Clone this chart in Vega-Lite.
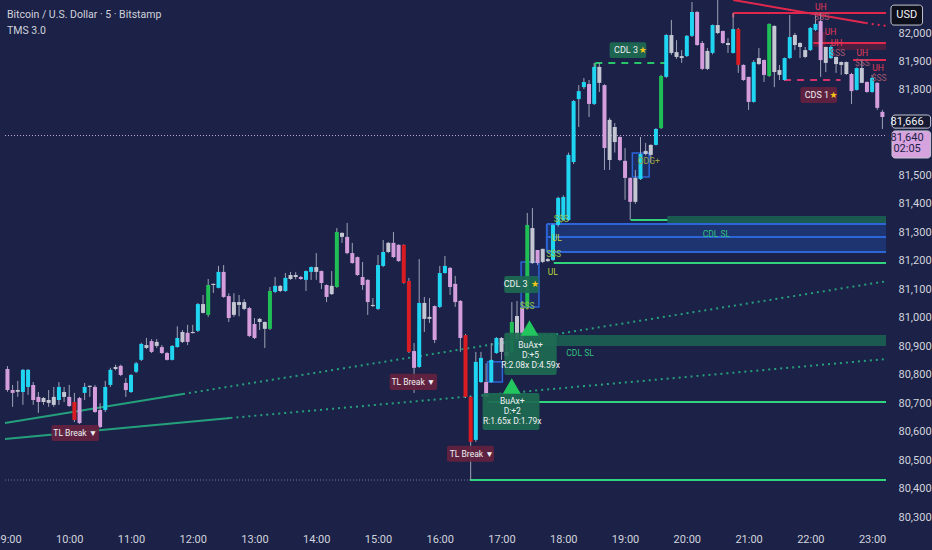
{
  "$schema": "https://vega.github.io/schema/vega-lite/v6.json",
  "width": 891,
  "height": 527,
  "autosize": {"type": "none"},
  "padding": {"left": 0, "top": 0, "right": 41, "bottom": 23},
  "background": "#1c2147",
  "config": {
    "view": {"stroke": null},
    "font": "Roboto",
    "axis": {"domain": false, "ticks": false, "grid": false, "labelColor": "#d1d4dc", "labelFontSize": 11}
  },
  "datasets": {
    "candles": [
      {"t": "2024-03-01T09:00", "o": 80820, "h": 80830, "l": 80740, "c": 80746, "k": "d"},
      {"t": "2024-03-01T09:05", "o": 80746, "h": 80764, "l": 80687, "c": 80736, "k": "d"},
      {"t": "2024-03-01T09:10", "o": 80740, "h": 80778, "l": 80722, "c": 80746, "k": "n"},
      {"t": "2024-03-01T09:15", "o": 80739, "h": 80820, "l": 80694, "c": 80817, "k": "u"},
      {"t": "2024-03-01T09:20", "o": 80757, "h": 80820, "l": 80729, "c": 80817, "k": "u"},
      {"t": "2024-03-01T09:25", "o": 80764, "h": 80774, "l": 80694, "c": 80711, "k": "d"},
      {"t": "2024-03-01T09:30", "o": 80722, "h": 80739, "l": 80666, "c": 80704, "k": "d"},
      {"t": "2024-03-01T09:35", "o": 80704, "h": 80722, "l": 80694, "c": 80718, "k": "n"},
      {"t": "2024-03-01T09:40", "o": 80711, "h": 80746, "l": 80687, "c": 80701, "k": "n"},
      {"t": "2024-03-01T09:45", "o": 80694, "h": 80757, "l": 80687, "c": 80722, "k": "n"},
      {"t": "2024-03-01T09:50", "o": 80711, "h": 80774, "l": 80694, "c": 80757, "k": "u"},
      {"t": "2024-03-01T09:55", "o": 80739, "h": 80757, "l": 80704, "c": 80722, "k": "n"},
      {"t": "2024-03-01T10:00", "o": 80722, "h": 80764, "l": 80687, "c": 80690, "k": "d"},
      {"t": "2024-03-01T10:05", "o": 80704, "h": 80736, "l": 80634, "c": 80641, "k": "r"},
      {"t": "2024-03-01T10:10", "o": 80718, "h": 80722, "l": 80627, "c": 80630, "k": "d"},
      {"t": "2024-03-01T10:15", "o": 80736, "h": 80771, "l": 80711, "c": 80757, "k": "u"},
      {"t": "2024-03-01T10:20", "o": 80757, "h": 80762, "l": 80722, "c": 80761, "k": "n"},
      {"t": "2024-03-01T10:25", "o": 80757, "h": 80764, "l": 80666, "c": 80669, "k": "d"},
      {"t": "2024-03-01T10:30", "o": 80676, "h": 80700, "l": 80612, "c": 80616, "k": "d"},
      {"t": "2024-03-01T10:35", "o": 80676, "h": 80778, "l": 80669, "c": 80757, "k": "u"},
      {"t": "2024-03-01T10:40", "o": 80764, "h": 80824, "l": 80757, "c": 80817, "k": "u"},
      {"t": "2024-03-01T10:45", "o": 80820, "h": 80835, "l": 80815, "c": 80827, "k": "n"},
      {"t": "2024-03-01T10:50", "o": 80831, "h": 80835, "l": 80795, "c": 80799, "k": "d"},
      {"t": "2024-03-01T10:55", "o": 80771, "h": 80788, "l": 80722, "c": 80746, "k": "d"},
      {"t": "2024-03-01T11:00", "o": 80739, "h": 80802, "l": 80736, "c": 80799, "k": "u"},
      {"t": "2024-03-01T11:05", "o": 80810, "h": 80845, "l": 80806, "c": 80840, "k": "u"},
      {"t": "2024-03-01T11:10", "o": 80852, "h": 80912, "l": 80848, "c": 80908, "k": "u"},
      {"t": "2024-03-01T11:15", "o": 80894, "h": 80929, "l": 80890, "c": 80904, "k": "n"},
      {"t": "2024-03-01T11:20", "o": 80918, "h": 80925, "l": 80876, "c": 80880, "k": "d"},
      {"t": "2024-03-01T11:25", "o": 80915, "h": 80925, "l": 80894, "c": 80901, "k": "n"},
      {"t": "2024-03-01T11:30", "o": 80897, "h": 80904, "l": 80873, "c": 80876, "k": "d"},
      {"t": "2024-03-01T11:35", "o": 80876, "h": 80880, "l": 80850, "c": 80852, "k": "d"},
      {"t": "2024-03-01T11:40", "o": 80852, "h": 80904, "l": 80850, "c": 80901, "k": "u"},
      {"t": "2024-03-01T11:45", "o": 80897, "h": 80970, "l": 80895, "c": 80929, "k": "u"},
      {"t": "2024-03-01T11:50", "o": 80915, "h": 80957, "l": 80911, "c": 80950, "k": "n"},
      {"t": "2024-03-01T11:55", "o": 80947, "h": 80975, "l": 80904, "c": 80915, "k": "d"},
      {"t": "2024-03-01T12:00", "o": 80950, "h": 80975, "l": 80945, "c": 80946, "k": "n"},
      {"t": "2024-03-01T12:05", "o": 80954, "h": 81052, "l": 80950, "c": 81048, "k": "u"},
      {"t": "2024-03-01T12:10", "o": 81017, "h": 81080, "l": 81015, "c": 81048, "k": "n"},
      {"t": "2024-03-01T12:15", "o": 81010, "h": 81136, "l": 81003, "c": 81115, "k": "g"},
      {"t": "2024-03-01T12:20", "o": 81115, "h": 81120, "l": 81087, "c": 81119, "k": "n"},
      {"t": "2024-03-01T12:25", "o": 81105, "h": 81182, "l": 81103, "c": 81161, "k": "u"},
      {"t": "2024-03-01T12:30", "o": 81161, "h": 81185, "l": 81070, "c": 81073, "k": "d"},
      {"t": "2024-03-01T12:35", "o": 81076, "h": 81086, "l": 80985, "c": 80999, "k": "d"},
      {"t": "2024-03-01T12:40", "o": 81010, "h": 81086, "l": 81003, "c": 81055, "k": "n"},
      {"t": "2024-03-01T12:45", "o": 81055, "h": 81080, "l": 81005, "c": 81045, "k": "n"},
      {"t": "2024-03-01T12:50", "o": 81031, "h": 81065, "l": 81027, "c": 81055, "k": "n"},
      {"t": "2024-03-01T12:55", "o": 81034, "h": 81038, "l": 80932, "c": 80936, "k": "d"},
      {"t": "2024-03-01T13:00", "o": 80978, "h": 80999, "l": 80925, "c": 80929, "k": "d"},
      {"t": "2024-03-01T13:05", "o": 80985, "h": 80999, "l": 80957, "c": 80996, "k": "n"},
      {"t": "2024-03-01T13:10", "o": 80961, "h": 80987, "l": 80894, "c": 80985, "k": "n"},
      {"t": "2024-03-01T13:15", "o": 80961, "h": 81108, "l": 80957, "c": 81094, "k": "g"},
      {"t": "2024-03-01T13:20", "o": 81091, "h": 81143, "l": 81087, "c": 81112, "k": "u"},
      {"t": "2024-03-01T13:25", "o": 81094, "h": 81115, "l": 81090, "c": 81112, "k": "n"},
      {"t": "2024-03-01T13:30", "o": 81094, "h": 81157, "l": 81091, "c": 81140, "k": "u"},
      {"t": "2024-03-01T13:35", "o": 81136, "h": 81161, "l": 81133, "c": 81150, "k": "n"},
      {"t": "2024-03-01T13:40", "o": 81150, "h": 81160, "l": 81135, "c": 81143, "k": "n"},
      {"t": "2024-03-01T13:45", "o": 81143, "h": 81147, "l": 81133, "c": 81136, "k": "d"},
      {"t": "2024-03-01T13:50", "o": 81133, "h": 81166, "l": 81094, "c": 81164, "k": "u"},
      {"t": "2024-03-01T13:55", "o": 81161, "h": 81180, "l": 81133, "c": 81178, "k": "u"},
      {"t": "2024-03-01T14:00", "o": 81178, "h": 81227, "l": 81133, "c": 81161, "k": "n"},
      {"t": "2024-03-01T14:05", "o": 81164, "h": 81166, "l": 81101, "c": 81122, "k": "d"},
      {"t": "2024-03-01T14:10", "o": 81115, "h": 81117, "l": 81055, "c": 81073, "k": "d"},
      {"t": "2024-03-01T14:15", "o": 81083, "h": 81164, "l": 81080, "c": 81112, "k": "n"},
      {"t": "2024-03-01T14:20", "o": 81108, "h": 81315, "l": 81105, "c": 81301, "k": "g"},
      {"t": "2024-03-01T14:25", "o": 81298, "h": 81300, "l": 81263, "c": 81284, "k": "n"},
      {"t": "2024-03-01T14:30", "o": 81284, "h": 81333, "l": 81223, "c": 81227, "k": "d"},
      {"t": "2024-03-01T14:35", "o": 81227, "h": 81263, "l": 81190, "c": 81192, "k": "d"},
      {"t": "2024-03-01T14:40", "o": 81213, "h": 81215, "l": 81147, "c": 81150, "k": "d"},
      {"t": "2024-03-01T14:45", "o": 81143, "h": 81196, "l": 81098, "c": 81115, "k": "d"},
      {"t": "2024-03-01T14:50", "o": 81133, "h": 81135, "l": 81010, "c": 81055, "k": "d"},
      {"t": "2024-03-01T14:55", "o": 81045, "h": 81069, "l": 81038, "c": 81041, "k": "n"},
      {"t": "2024-03-01T15:00", "o": 81031, "h": 81220, "l": 81027, "c": 81185, "k": "u"},
      {"t": "2024-03-01T15:05", "o": 81182, "h": 81273, "l": 81178, "c": 81231, "k": "u"},
      {"t": "2024-03-01T15:10", "o": 81231, "h": 81266, "l": 81227, "c": 81263, "k": "n"},
      {"t": "2024-03-01T15:15", "o": 81263, "h": 81301, "l": 81210, "c": 81213, "k": "d"},
      {"t": "2024-03-01T15:20", "o": 81256, "h": 81258, "l": 81196, "c": 81199, "k": "d"},
      {"t": "2024-03-01T15:25", "o": 81256, "h": 81258, "l": 81119, "c": 81122, "k": "r"},
      {"t": "2024-03-01T15:30", "o": 81129, "h": 81140, "l": 80876, "c": 80880, "k": "r"},
      {"t": "2024-03-01T15:35", "o": 80883, "h": 80911, "l": 80736, "c": 80824, "k": "d"},
      {"t": "2024-03-01T15:40", "o": 80827, "h": 81206, "l": 80824, "c": 81052, "k": "u"},
      {"t": "2024-03-01T15:45", "o": 81052, "h": 81073, "l": 80950, "c": 80996, "k": "n"},
      {"t": "2024-03-01T15:50", "o": 80996, "h": 81069, "l": 80982, "c": 81003, "k": "n"},
      {"t": "2024-03-01T15:55", "o": 81041, "h": 81043, "l": 80911, "c": 80922, "k": "d"},
      {"t": "2024-03-01T16:00", "o": 81038, "h": 81182, "l": 81034, "c": 81157, "k": "u"},
      {"t": "2024-03-01T16:05", "o": 81157, "h": 81217, "l": 81155, "c": 81182, "k": "u"},
      {"t": "2024-03-01T16:10", "o": 81175, "h": 81178, "l": 81080, "c": 81108, "k": "d"},
      {"t": "2024-03-01T16:15", "o": 81119, "h": 81147, "l": 81038, "c": 81055, "k": "d"},
      {"t": "2024-03-01T16:20", "o": 81059, "h": 81062, "l": 80880, "c": 80929, "k": "d"},
      {"t": "2024-03-01T16:25", "o": 80939, "h": 80943, "l": 80718, "c": 80722, "k": "r"},
      {"t": "2024-03-01T16:30", "o": 80722, "h": 80725, "l": 80430, "c": 80564, "k": "r"},
      {"t": "2024-03-01T16:35", "o": 80571, "h": 80880, "l": 80564, "c": 80845, "k": "u"},
      {"t": "2024-03-01T16:40", "o": 80774, "h": 80880, "l": 80771, "c": 80859, "k": "u"},
      {"t": "2024-03-01T16:45", "o": 80774, "h": 80840, "l": 80720, "c": 80722, "k": "d"},
      {"t": "2024-03-01T16:50", "o": 80774, "h": 80911, "l": 80771, "c": 80852, "k": "u"},
      {"t": "2024-03-01T16:55", "o": 80876, "h": 80932, "l": 80873, "c": 80929, "k": "u"},
      {"t": "2024-03-01T17:00", "o": 80929, "h": 80932, "l": 80852, "c": 80880, "k": "n"},
      {"t": "2024-03-01T17:05", "o": 80866, "h": 80922, "l": 80859, "c": 80880, "k": "n"},
      {"t": "2024-03-01T17:10", "o": 80880, "h": 81055, "l": 80876, "c": 80985, "k": "g"},
      {"t": "2024-03-01T17:15", "o": 80925, "h": 81059, "l": 80922, "c": 81006, "k": "n"},
      {"t": "2024-03-01T17:20", "o": 81034, "h": 81059, "l": 80918, "c": 80922, "k": "d"},
      {"t": "2024-03-01T17:25", "o": 81038, "h": 81368, "l": 81034, "c": 81326, "k": "g"},
      {"t": "2024-03-01T17:30", "o": 81315, "h": 81385, "l": 81189, "c": 81192, "k": "n"},
      {"t": "2024-03-01T17:35", "o": 81238, "h": 81238, "l": 81185, "c": 81192, "k": "d"},
      {"t": "2024-03-01T17:40", "o": 81196, "h": 81242, "l": 81192, "c": 81242, "k": "n"},
      {"t": "2024-03-01T17:45", "o": 81206, "h": 81210, "l": 81196, "c": 81199, "k": "n"},
      {"t": "2024-03-01T17:50", "o": 81203, "h": 81330, "l": 81199, "c": 81326, "k": "u"},
      {"t": "2024-03-01T17:55", "o": 81326, "h": 81425, "l": 81320, "c": 81421, "k": "u"},
      {"t": "2024-03-01T18:00", "o": 81343, "h": 81430, "l": 81340, "c": 81424, "k": "u"},
      {"t": "2024-03-01T18:05", "o": 81343, "h": 81580, "l": 81340, "c": 81572, "k": "u"},
      {"t": "2024-03-01T18:10", "o": 81547, "h": 81765, "l": 81540, "c": 81761, "k": "u"},
      {"t": "2024-03-01T18:15", "o": 81768, "h": 81817, "l": 81670, "c": 81796, "k": "u"},
      {"t": "2024-03-01T18:20", "o": 81810, "h": 81842, "l": 81803, "c": 81828, "k": "u"},
      {"t": "2024-03-01T18:25", "o": 81821, "h": 81835, "l": 81705, "c": 81751, "k": "d"},
      {"t": "2024-03-01T18:30", "o": 81751, "h": 81895, "l": 81747, "c": 81881, "k": "u"},
      {"t": "2024-03-01T18:35", "o": 81881, "h": 81895, "l": 81793, "c": 81825, "k": "n"},
      {"t": "2024-03-01T18:40", "o": 81817, "h": 81820, "l": 81519, "c": 81596, "k": "d"},
      {"t": "2024-03-01T18:45", "o": 81554, "h": 81702, "l": 81519, "c": 81695, "k": "n"},
      {"t": "2024-03-01T18:50", "o": 81670, "h": 81684, "l": 81580, "c": 81617, "k": "n"},
      {"t": "2024-03-01T18:55", "o": 81635, "h": 81637, "l": 81550, "c": 81554, "k": "d"},
      {"t": "2024-03-01T19:00", "o": 81551, "h": 81596, "l": 81414, "c": 81491, "k": "d"},
      {"t": "2024-03-01T19:05", "o": 81491, "h": 81493, "l": 81343, "c": 81407, "k": "d"},
      {"t": "2024-03-01T19:10", "o": 81407, "h": 81519, "l": 81400, "c": 81491, "k": "n"},
      {"t": "2024-03-01T19:15", "o": 81487, "h": 81635, "l": 81484, "c": 81575, "k": "u"},
      {"t": "2024-03-01T19:20", "o": 81575, "h": 81614, "l": 81570, "c": 81586, "k": "n"},
      {"t": "2024-03-01T19:25", "o": 81572, "h": 81609, "l": 81544, "c": 81607, "k": "n"},
      {"t": "2024-03-01T19:30", "o": 81607, "h": 81666, "l": 81605, "c": 81663, "k": "u"},
      {"t": "2024-03-01T19:35", "o": 81666, "h": 81853, "l": 81663, "c": 81849, "k": "g"},
      {"t": "2024-03-01T19:40", "o": 81846, "h": 81996, "l": 81842, "c": 81993, "k": "u"},
      {"t": "2024-03-01T19:45", "o": 81993, "h": 82046, "l": 81923, "c": 81930, "k": "n"},
      {"t": "2024-03-01T19:50", "o": 81933, "h": 81975, "l": 81909, "c": 81916, "k": "n"},
      {"t": "2024-03-01T19:55", "o": 81919, "h": 81940, "l": 81895, "c": 81912, "k": "n"},
      {"t": "2024-03-01T20:00", "o": 81919, "h": 81993, "l": 81916, "c": 81990, "k": "u"},
      {"t": "2024-03-01T20:05", "o": 81990, "h": 82109, "l": 81986, "c": 82074, "k": "u"},
      {"t": "2024-03-01T20:10", "o": 82074, "h": 82077, "l": 81955, "c": 81958, "k": "d"},
      {"t": "2024-03-01T20:15", "o": 81965, "h": 81972, "l": 81870, "c": 81874, "k": "d"},
      {"t": "2024-03-01T20:20", "o": 81874, "h": 81947, "l": 81870, "c": 81937, "k": "n"},
      {"t": "2024-03-01T20:25", "o": 81930, "h": 82030, "l": 81925, "c": 82028, "k": "u"},
      {"t": "2024-03-01T20:30", "o": 82028, "h": 82116, "l": 81996, "c": 82000, "k": "n"},
      {"t": "2024-03-01T20:35", "o": 82007, "h": 82009, "l": 81962, "c": 81965, "k": "d"},
      {"t": "2024-03-01T20:40", "o": 81965, "h": 81982, "l": 81930, "c": 81958, "k": "n"},
      {"t": "2024-03-01T20:45", "o": 81930, "h": 82070, "l": 81928, "c": 82014, "k": "u"},
      {"t": "2024-03-01T20:50", "o": 82014, "h": 82018, "l": 81860, "c": 81888, "k": "r"},
      {"t": "2024-03-01T20:55", "o": 81888, "h": 81890, "l": 81832, "c": 81835, "k": "d"},
      {"t": "2024-03-01T21:00", "o": 81846, "h": 81846, "l": 81730, "c": 81758, "k": "d"},
      {"t": "2024-03-01T21:05", "o": 81758, "h": 81905, "l": 81755, "c": 81898, "k": "u"},
      {"t": "2024-03-01T21:10", "o": 81912, "h": 81947, "l": 81888, "c": 81891, "k": "n"},
      {"t": "2024-03-01T21:15", "o": 81905, "h": 81907, "l": 81828, "c": 81853, "k": "d"},
      {"t": "2024-03-01T21:20", "o": 81849, "h": 82034, "l": 81846, "c": 82032, "k": "g"},
      {"t": "2024-03-01T21:25", "o": 82025, "h": 82027, "l": 81810, "c": 81863, "k": "n"},
      {"t": "2024-03-01T21:30", "o": 81870, "h": 81888, "l": 81835, "c": 81853, "k": "n"},
      {"t": "2024-03-01T21:35", "o": 81835, "h": 81914, "l": 81833, "c": 81912, "k": "u"},
      {"t": "2024-03-01T21:40", "o": 81912, "h": 82063, "l": 81909, "c": 81986, "k": "u"},
      {"t": "2024-03-01T21:45", "o": 81993, "h": 82000, "l": 81940, "c": 81958, "k": "n"},
      {"t": "2024-03-01T21:50", "o": 81965, "h": 81968, "l": 81912, "c": 81951, "k": "n"},
      {"t": "2024-03-01T21:55", "o": 81940, "h": 81951, "l": 81912, "c": 81916, "k": "n"},
      {"t": "2024-03-01T22:00", "o": 81940, "h": 82021, "l": 81937, "c": 82018, "k": "u"},
      {"t": "2024-03-01T22:05", "o": 82011, "h": 82063, "l": 82007, "c": 82032, "k": "u"},
      {"t": "2024-03-01T22:10", "o": 82042, "h": 82070, "l": 81846, "c": 81905, "k": "d"},
      {"t": "2024-03-01T22:15", "o": 81895, "h": 81952, "l": 81863, "c": 81951, "k": "n"},
      {"t": "2024-03-01T22:20", "o": 81912, "h": 81958, "l": 81909, "c": 81951, "k": "u"},
      {"t": "2024-03-01T22:25", "o": 81916, "h": 81917, "l": 81860, "c": 81891, "k": "n"},
      {"t": "2024-03-01T22:30", "o": 81898, "h": 81900, "l": 81853, "c": 81888, "k": "n"},
      {"t": "2024-03-01T22:35", "o": 81898, "h": 81900, "l": 81853, "c": 81856, "k": "n"},
      {"t": "2024-03-01T22:40", "o": 81856, "h": 81860, "l": 81751, "c": 81796, "k": "d"},
      {"t": "2024-03-01T22:45", "o": 81800, "h": 81879, "l": 81798, "c": 81877, "k": "u"},
      {"t": "2024-03-01T22:50", "o": 81877, "h": 81905, "l": 81824, "c": 81825, "k": "n"},
      {"t": "2024-03-01T22:55", "o": 81828, "h": 81830, "l": 81790, "c": 81793, "k": "d"},
      {"t": "2024-03-01T23:00", "o": 81793, "h": 81853, "l": 81790, "c": 81842, "k": "u"},
      {"t": "2024-03-01T23:05", "o": 81825, "h": 81827, "l": 81730, "c": 81737, "k": "d"},
      {"t": "2024-03-01T23:10", "o": 81723, "h": 81730, "l": 81663, "c": 81705, "k": "d"}
    ],
    "zones": [
      {"t": "2024-03-01T17:44:00", "t2": "2024-03-01T23:13:30", "p": 81231, "p2": 81329, "k": "blue"},
      {"t": "2024-03-01T19:41:00", "t2": "2024-03-01T23:13:30", "p": 81329, "p2": 81357, "k": "teal"},
      {"t": "2024-03-01T17:22:00", "t2": "2024-03-01T23:13:30", "p": 80901, "p2": 80939, "k": "teal"},
      {"t": "2024-03-01T22:26:00", "t2": "2024-03-01T23:13:30", "p": 81940, "p2": 81968, "k": "red"},
      {"t": "2024-03-01T22:03:00", "t2": "2024-03-01T22:15:00", "p": 81951, "p2": 82004, "k": "red"}
    ],
    "blueSeg": [
      {"t": "2024-03-01T17:44:00", "t2": "2024-03-01T23:13:30", "p": 81329, "p2": 81329},
      {"t": "2024-03-01T17:44:00", "t2": "2024-03-01T23:13:30", "p": 81284, "p2": 81284},
      {"t": "2024-03-01T17:44:00", "t2": "2024-03-01T23:13:30", "p": 81231, "p2": 81231},
      {"t": "2024-03-01T17:44:00", "t2": "2024-03-01T17:44:00", "p": 81231, "p2": 81329}
    ],
    "blueBox": [
      {"t": "2024-03-01T19:07:05", "t2": "2024-03-01T19:23:25", "p": 81494, "p2": 81579},
      {"t": "2024-03-01T16:46:25", "t2": "2024-03-01T17:00:50", "p": 80774, "p2": 80845},
      {"t": "2024-03-01T17:19:00", "t2": "2024-03-01T17:36:20", "p": 81038, "p2": 81196}
    ],
    "trendSolid": [
      {"t": "2024-03-01T08:57:36", "t2": "2024-03-01T11:50:30", "p": 80630, "p2": 80732},
      {"t": "2024-03-01T08:57:36", "t2": "2024-03-01T12:36:36", "p": 80574, "p2": 80648}
    ],
    "trendDot": [
      {"t": "2024-03-01T11:50:30", "t2": "2024-03-01T23:13:30", "p": 80732, "p2": 81128},
      {"t": "2024-03-01T12:36:36", "t2": "2024-03-01T23:13:30", "p": 80648, "p2": 80855}
    ],
    "greenSeg": [
      {"t": "2024-03-01T16:29:05", "t2": "2024-03-01T23:13:30", "p": 80430, "p2": 80430},
      {"t": "2024-03-01T16:46:25", "t2": "2024-03-01T23:13:30", "p": 80704, "p2": 80704},
      {"t": "2024-03-01T17:50:45", "t2": "2024-03-01T23:13:30", "p": 81192, "p2": 81192},
      {"t": "2024-03-01T19:05:35", "t2": "2024-03-01T19:41:10", "p": 81343, "p2": 81343}
    ],
    "cdlDash": [
      {"t": "2024-03-01T18:31:05", "t2": "2024-03-01T19:39:20", "p": 81895, "p2": 81895},
      {"t": "2024-03-01T18:31:05", "t2": "2024-03-01T18:31:05", "p": 81895, "p2": 81875}
    ],
    "dots": [
      {"t": "2024-03-01T08:57:36", "t2": "2024-03-01T23:13:30", "p": 81640, "p2": 81640, "k": "last"},
      {"t": "2024-03-01T08:57:36", "t2": "2024-03-01T16:29:05", "p": 80430, "p2": 80430, "k": "low"}
    ],
    "redSolid": [
      {"t": "2024-03-01T20:45:05", "t2": "2024-03-01T22:53:50", "p": 82116, "p2": 82035},
      {"t": "2024-03-01T20:45:05", "t2": "2024-03-01T23:13:30", "p": 82070, "p2": 82070},
      {"t": "2024-03-01T20:45:05", "t2": "2024-03-01T20:45:05", "p": 82070, "p2": 82055},
      {"t": "2024-03-01T22:02:55", "t2": "2024-03-01T23:13:30", "p": 81965, "p2": 81965},
      {"t": "2024-03-01T22:41:25", "t2": "2024-03-01T23:13:30", "p": 81905, "p2": 81905}
    ],
    "redDot": [
      {"t": "2024-03-01T22:53:50", "t2": "2024-03-01T23:13:30", "p": 82035, "p2": 82025}
    ],
    "redDash": [
      {"t": "2024-03-01T21:34:30", "t2": "2024-03-01T22:29:20", "p": 81835, "p2": 81835}
    ],
    "boxes": [
      {"t": "2024-03-01T09:42:45", "t2": "2024-03-01T10:28:55", "p": 80567, "p2": 80623, "k": "maroon"},
      {"t": "2024-03-01T15:11:20", "t2": "2024-03-01T15:57:25", "p": 80746, "p2": 80803, "k": "maroon"},
      {"t": "2024-03-01T16:07:00", "t2": "2024-03-01T16:52:35", "p": 80494, "p2": 80550, "k": "maroon"},
      {"t": "2024-03-01T16:41:35", "t2": "2024-03-01T17:36:50", "p": 80606, "p2": 80736, "k": "green"},
      {"t": "2024-03-01T17:02:40", "t2": "2024-03-01T17:53:35", "p": 80799, "p2": 80947, "k": "green"},
      {"t": "2024-03-01T17:02:40", "t2": "2024-03-01T17:36:00", "p": 81087, "p2": 81147, "k": "green"},
      {"t": "2024-03-01T18:45:00", "t2": "2024-03-01T19:20:35", "p": 81912, "p2": 81968, "k": "green"},
      {"t": "2024-03-01T21:50:25", "t2": "2024-03-01T22:26:00", "p": 81754, "p2": 81810, "k": "maroon"}
    ],
    "triangles": [
      {"t": "2024-03-01T17:09:55", "p": 80760},
      {"t": "2024-03-01T17:27:10", "p": 80964}
    ],
    "whiteText": [
      {"t": "2024-03-01T10:05:50", "p": 80595, "s": "TL Break ▼"},
      {"t": "2024-03-01T15:34:20", "p": 80774, "s": "TL Break ▼"},
      {"t": "2024-03-01T16:31:00", "p": 80522, "s": "TL Break ▼"},
      {"t": "2024-03-01T17:10:25", "p": 80708, "s": "BuAx+"},
      {"t": "2024-03-01T17:10:25", "p": 80673, "s": "D:+2"},
      {"t": "2024-03-01T17:10:25", "p": 80637, "s": "R:1.65x D:1.79x"},
      {"t": "2024-03-01T17:28:10", "p": 80904, "s": "BuAx+"},
      {"t": "2024-03-01T17:28:10", "p": 80869, "s": "D:+5"},
      {"t": "2024-03-01T17:28:10", "p": 80834, "s": "R:2.08x D:4.59x"}
    ],
    "tagText": [
      {"t": "2024-03-01T17:13:45", "p": 81117, "s": "CDL 3"},
      {"t": "2024-03-01T19:00:55", "p": 81940, "s": "CDL 3"},
      {"t": "2024-03-01T22:06:20", "p": 81782, "s": "CDS 1"}
    ],
    "stars": [
      {"t": "2024-03-01T17:32:30", "p": 81117, "s": "★"},
      {"t": "2024-03-01T19:17:10", "p": 81940, "s": "★"},
      {"t": "2024-03-01T22:22:35", "p": 81782, "s": "★"}
    ],
    "colorText": [
      {"t": "2024-03-01T18:16:15", "p": 80876, "s": "CDL SL", "k": "sl"},
      {"t": "2024-03-01T20:28:45", "p": 81294, "s": "CDL SL", "k": "sl"},
      {"t": "2024-03-01T17:53:35", "p": 81280, "s": "UL", "k": "ul"},
      {"t": "2024-03-01T17:49:50", "p": 81161, "s": "UL", "k": "ul"},
      {"t": "2024-03-01T17:57:55", "p": 81347, "s": "S$S", "k": "ss"},
      {"t": "2024-03-01T17:50:40", "p": 81224, "s": "S$S", "k": "ss"},
      {"t": "2024-03-01T17:24:50", "p": 81041, "s": "S$S", "k": "ss"},
      {"t": "2024-03-01T19:23:00", "p": 81551, "s": "ODG+", "k": "odg"},
      {"t": "2024-03-01T22:10:05", "p": 82091, "s": "UH", "k": "uh"},
      {"t": "2024-03-01T22:19:40", "p": 82004, "s": "UH", "k": "uh"},
      {"t": "2024-03-01T22:25:30", "p": 81965, "s": "UH", "k": "uh"},
      {"t": "2024-03-01T22:50:30", "p": 81930, "s": "UH", "k": "uh"},
      {"t": "2024-03-01T23:05:50", "p": 81877, "s": "UH", "k": "uh"},
      {"t": "2024-03-01T22:11:05", "p": 82056, "s": "$SS", "k": "sss"},
      {"t": "2024-03-01T22:26:25", "p": 81930, "s": "$SS", "k": "sss"},
      {"t": "2024-03-01T22:50:30", "p": 81895, "s": "$SS", "k": "sss"},
      {"t": "2024-03-01T23:06:50", "p": 81842, "s": "$SS", "k": "sss"}
    ],
    "head": [
      {"t": "2024-03-01T08:59:30", "p": 82063, "s": "Bitcoin / U.S. Dollar · 5 · Bitstamp"},
      {"t": "2024-03-01T08:59:30", "p": 82007, "s": "TMS 3.0"}
    ],
    "sideBoxes": [
      {"t": "2024-03-01T23:18:18", "t2": "2024-03-01T23:49:00", "p": 82028, "p2": 82098, "k": "usd"},
      {"t": "2024-03-01T23:19:20", "t2": "2024-03-01T23:56:50", "p": 81666, "p2": 81712, "k": "ind"},
      {"t": "2024-03-01T23:19:20", "t2": "2024-03-01T23:56:50", "p": 81561, "p2": 81656, "k": "lastbox"}
    ],
    "sideText": [
      {"t": "2024-03-01T23:33:36", "p": 82063, "s": "USD", "k": "light"},
      {"t": "2024-03-01T23:34:00", "p": 81689, "s": "81,666", "k": "light"},
      {"t": "2024-03-01T23:34:00", "p": 81633, "s": "81,640", "k": "dark"},
      {"t": "2024-03-01T23:34:00", "p": 81592, "s": "02:05", "k": "dark"}
    ]
  },
  "layer": [
    {
      "data": {"name": "zones"},
      "mark": {"type": "rect"},
      "encoding": {
        "x": {
          "field": "t",
          "type": "temporal",
          "title": null,
          "scale": {
            "nice": false,
            "domain": [
              {"year": 2024, "month": 3, "date": 1, "hours": 8, "minutes": 57, "seconds": 36},
              {"year": 2024, "month": 3, "date": 1, "hours": 23, "minutes": 13, "seconds": 30}
            ]
          },
          "axis": {
            "format": "%H:%M",
            "tickCount": 30,
            "values": [
              {"year": 2024, "month": 3, "date": 1, "hours": 9},
              {"year": 2024, "month": 3, "date": 1, "hours": 10},
              {"year": 2024, "month": 3, "date": 1, "hours": 11},
              {"year": 2024, "month": 3, "date": 1, "hours": 12},
              {"year": 2024, "month": 3, "date": 1, "hours": 13},
              {"year": 2024, "month": 3, "date": 1, "hours": 14},
              {"year": 2024, "month": 3, "date": 1, "hours": 15},
              {"year": 2024, "month": 3, "date": 1, "hours": 16},
              {"year": 2024, "month": 3, "date": 1, "hours": 17},
              {"year": 2024, "month": 3, "date": 1, "hours": 18},
              {"year": 2024, "month": 3, "date": 1, "hours": 19},
              {"year": 2024, "month": 3, "date": 1, "hours": 20},
              {"year": 2024, "month": 3, "date": 1, "hours": 21},
              {"year": 2024, "month": 3, "date": 1, "hours": 22},
              {"year": 2024, "month": 3, "date": 1, "hours": 23}
            ],
            "labelFlush": false,
            "labelOverlap": false,
            "labelPadding": 6
          }
        },
        "x2": {"field": "t2"},
        "y": {
          "field": "p",
          "type": "quantitative",
          "title": null,
          "scale": {"domain": [80265, 82116], "zero": false, "nice": false},
          "axis": {
            "orient": "right",
            "tickCount": 40,
            "values": [80300, 80400, 80500, 80600, 80700, 80800, 80900, 81000, 81100, 81200, 81300, 81400, 81500, 81800, 81900, 82000],
            "labelExpr": "format(datum.value, ',')",
            "labelOverlap": false,
            "labelPadding": 7,
            "labelAlign": "left"
          }
        },
        "y2": {"field": "p2"},
        "color": {"field": "k", "type": "nominal", "legend": null, "scale": {"domain": ["u", "d", "n", "g", "r", "blue", "teal", "red", "last", "low", "maroon", "green", "sl", "ul", "ss", "odg", "uh", "sss", "light", "dark", "usd", "ind", "lastbox"], "range": ["#1fd5f2", "#d49ddc", "#c4c7d2", "#1fbf56", "#d91c22", "#1d3471", "#1a5a50", "#4b1f3f", "#c9a2da", "#7478a6", "#642340", "#1d6a52", "#2ec27e", "#b9d43c", "#8fc24a", "#9aa33a", "#e23b5a", "#a0586f", "#f2f3f6", "#1c2147", "#0d0f1a", "#161a33", "#d7a3df"]}}
      }
    },
    {
      "data": {"name": "blueSeg"},
      "mark": {"type": "rule", "color": "#2c66d6", "strokeWidth": 2},
      "encoding": {
        "x": {"field": "t", "type": "temporal"}, "x2": {"field": "t2"},
        "y": {"field": "p", "type": "quantitative"}, "y2": {"field": "p2"}
      }
    },
    {
      "data": {"name": "blueBox"},
      "mark": {"type": "rect", "fill": "#22408a", "fillOpacity": 0.35, "stroke": "#2c66d6", "strokeWidth": 1.5},
      "encoding": {
        "x": {"field": "t", "type": "temporal"}, "x2": {"field": "t2"},
        "y": {"field": "p", "type": "quantitative"}, "y2": {"field": "p2"}
      }
    },
    {
      "data": {"name": "trendSolid"},
      "mark": {"type": "rule", "color": "#25a07c", "strokeWidth": 2},
      "encoding": {
        "x": {"field": "t", "type": "temporal"}, "x2": {"field": "t2"},
        "y": {"field": "p", "type": "quantitative"}, "y2": {"field": "p2"}
      }
    },
    {
      "data": {"name": "trendDot"},
      "mark": {"type": "rule", "color": "#25a07c", "strokeWidth": 2, "strokeDash": [2, 4]},
      "encoding": {
        "x": {"field": "t", "type": "temporal"}, "x2": {"field": "t2"},
        "y": {"field": "p", "type": "quantitative"}, "y2": {"field": "p2"}
      }
    },
    {
      "data": {"name": "dots"},
      "mark": {"type": "rule", "strokeWidth": 1, "strokeDash": [1, 2]},
      "encoding": {
        "x": {"field": "t", "type": "temporal"}, "x2": {"field": "t2"},
        "y": {"field": "p", "type": "quantitative"}, "y2": {"field": "p2"},
        "color": {"field": "k", "type": "nominal", "legend": null}
      }
    },
    {
      "data": {"name": "greenSeg"},
      "mark": {"type": "rule", "color": "#2fd47c", "strokeWidth": 2},
      "encoding": {
        "x": {"field": "t", "type": "temporal"}, "x2": {"field": "t2"},
        "y": {"field": "p", "type": "quantitative"}, "y2": {"field": "p2"}
      }
    },
    {
      "data": {"name": "cdlDash"},
      "mark": {"type": "rule", "color": "#27c46a", "strokeWidth": 2, "strokeDash": [7, 6]},
      "encoding": {
        "x": {"field": "t", "type": "temporal"}, "x2": {"field": "t2"},
        "y": {"field": "p", "type": "quantitative"}, "y2": {"field": "p2"}
      }
    },
    {
      "data": {"name": "redSolid"},
      "mark": {"type": "rule", "color": "#e0284e", "strokeWidth": 2},
      "encoding": {
        "x": {"field": "t", "type": "temporal"}, "x2": {"field": "t2"},
        "y": {"field": "p", "type": "quantitative"}, "y2": {"field": "p2"}
      }
    },
    {
      "data": {"name": "redDot"},
      "mark": {"type": "rule", "color": "#e0284e", "strokeWidth": 2, "strokeDash": [2, 4]},
      "encoding": {
        "x": {"field": "t", "type": "temporal"}, "x2": {"field": "t2"},
        "y": {"field": "p", "type": "quantitative"}, "y2": {"field": "p2"}
      }
    },
    {
      "data": {"name": "redDash"},
      "mark": {"type": "rule", "color": "#d6336c", "strokeWidth": 2, "strokeDash": [7, 6]},
      "encoding": {
        "x": {"field": "t", "type": "temporal"}, "x2": {"field": "t2"},
        "y": {"field": "p", "type": "quantitative"}, "y2": {"field": "p2"}
      }
    },
    {
      "data": {"name": "candles"},
      "mark": {"type": "rule", "color": "#9ea3b8", "strokeWidth": 1},
      "encoding": {
        "x": {"field": "t", "type": "temporal"},
        "y": {"field": "l", "type": "quantitative"}, "y2": {"field": "h"}
      }
    },
    {
      "data": {"name": "candles"},
      "mark": {"type": "bar", "size": 4},
      "encoding": {
        "x": {"field": "t", "type": "temporal"},
        "y": {"field": "o", "type": "quantitative"}, "y2": {"field": "c"},
        "color": {"field": "k", "type": "nominal", "legend": null}
      }
    },
    {
      "data": {"name": "boxes"},
      "mark": {"type": "rect", "cornerRadius": 2, "opacity": 0.92},
      "encoding": {
        "x": {"field": "t", "type": "temporal"}, "x2": {"field": "t2"},
        "y": {"field": "p", "type": "quantitative"}, "y2": {"field": "p2"},
        "color": {"field": "k", "type": "nominal", "legend": null}
      }
    },
    {
      "data": {"name": "triangles"},
      "mark": {"type": "point", "shape": "triangle-up", "filled": true, "size": 320, "color": "#22c55e", "opacity": 1},
      "encoding": {
        "x": {"field": "t", "type": "temporal"},
        "y": {"field": "p", "type": "quantitative"}
      }
    },
    {
      "data": {"name": "whiteText"},
      "mark": {"type": "text", "color": "#eef0f4", "fontSize": 8.5, "align": "center", "baseline": "middle"},
      "encoding": {
        "x": {"field": "t", "type": "temporal"},
        "y": {"field": "p", "type": "quantitative"},
        "text": {"field": "s"}
      }
    },
    {
      "data": {"name": "tagText"},
      "mark": {"type": "text", "color": "#eef0f4", "fontSize": 9, "align": "center", "baseline": "middle"},
      "encoding": {
        "x": {"field": "t", "type": "temporal"},
        "y": {"field": "p", "type": "quantitative"},
        "text": {"field": "s"}
      }
    },
    {
      "data": {"name": "stars"},
      "mark": {"type": "text", "color": "#f5c518", "fontSize": 9, "align": "center", "baseline": "middle", "font": "DejaVu Sans"},
      "encoding": {
        "x": {"field": "t", "type": "temporal"},
        "y": {"field": "p", "type": "quantitative"},
        "text": {"field": "s"}
      }
    },
    {
      "data": {"name": "colorText"},
      "mark": {"type": "text", "fontSize": 8.5, "align": "center", "baseline": "middle"},
      "encoding": {
        "x": {"field": "t", "type": "temporal"},
        "y": {"field": "p", "type": "quantitative"},
        "text": {"field": "s"},
        "color": {"field": "k", "type": "nominal", "legend": null}
      }
    },
    {
      "data": {"name": "head"},
      "mark": {"type": "text", "color": "#d1d4dc", "fontSize": 10.5, "align": "left", "baseline": "middle"},
      "encoding": {
        "x": {"field": "t", "type": "temporal"},
        "y": {"field": "p", "type": "quantitative"},
        "text": {"field": "s"}
      }
    },
    {
      "data": {"name": "sideBoxes"},
      "mark": {"type": "rect", "cornerRadius": 3, "strokeWidth": 1, "stroke": "#c3c6d0"},
      "encoding": {
        "x": {"field": "t", "type": "temporal"}, "x2": {"field": "t2"},
        "y": {"field": "p", "type": "quantitative"}, "y2": {"field": "p2"},
        "color": {"field": "k", "type": "nominal", "legend": null}
      }
    },
    {
      "data": {"name": "sideText"},
      "mark": {"type": "text", "fontSize": 11, "align": "center", "baseline": "middle"},
      "encoding": {
        "x": {"field": "t", "type": "temporal"},
        "y": {"field": "p", "type": "quantitative"},
        "text": {"field": "s"},
        "color": {"field": "k", "type": "nominal", "legend": null}
      }
    }
  ]
}
